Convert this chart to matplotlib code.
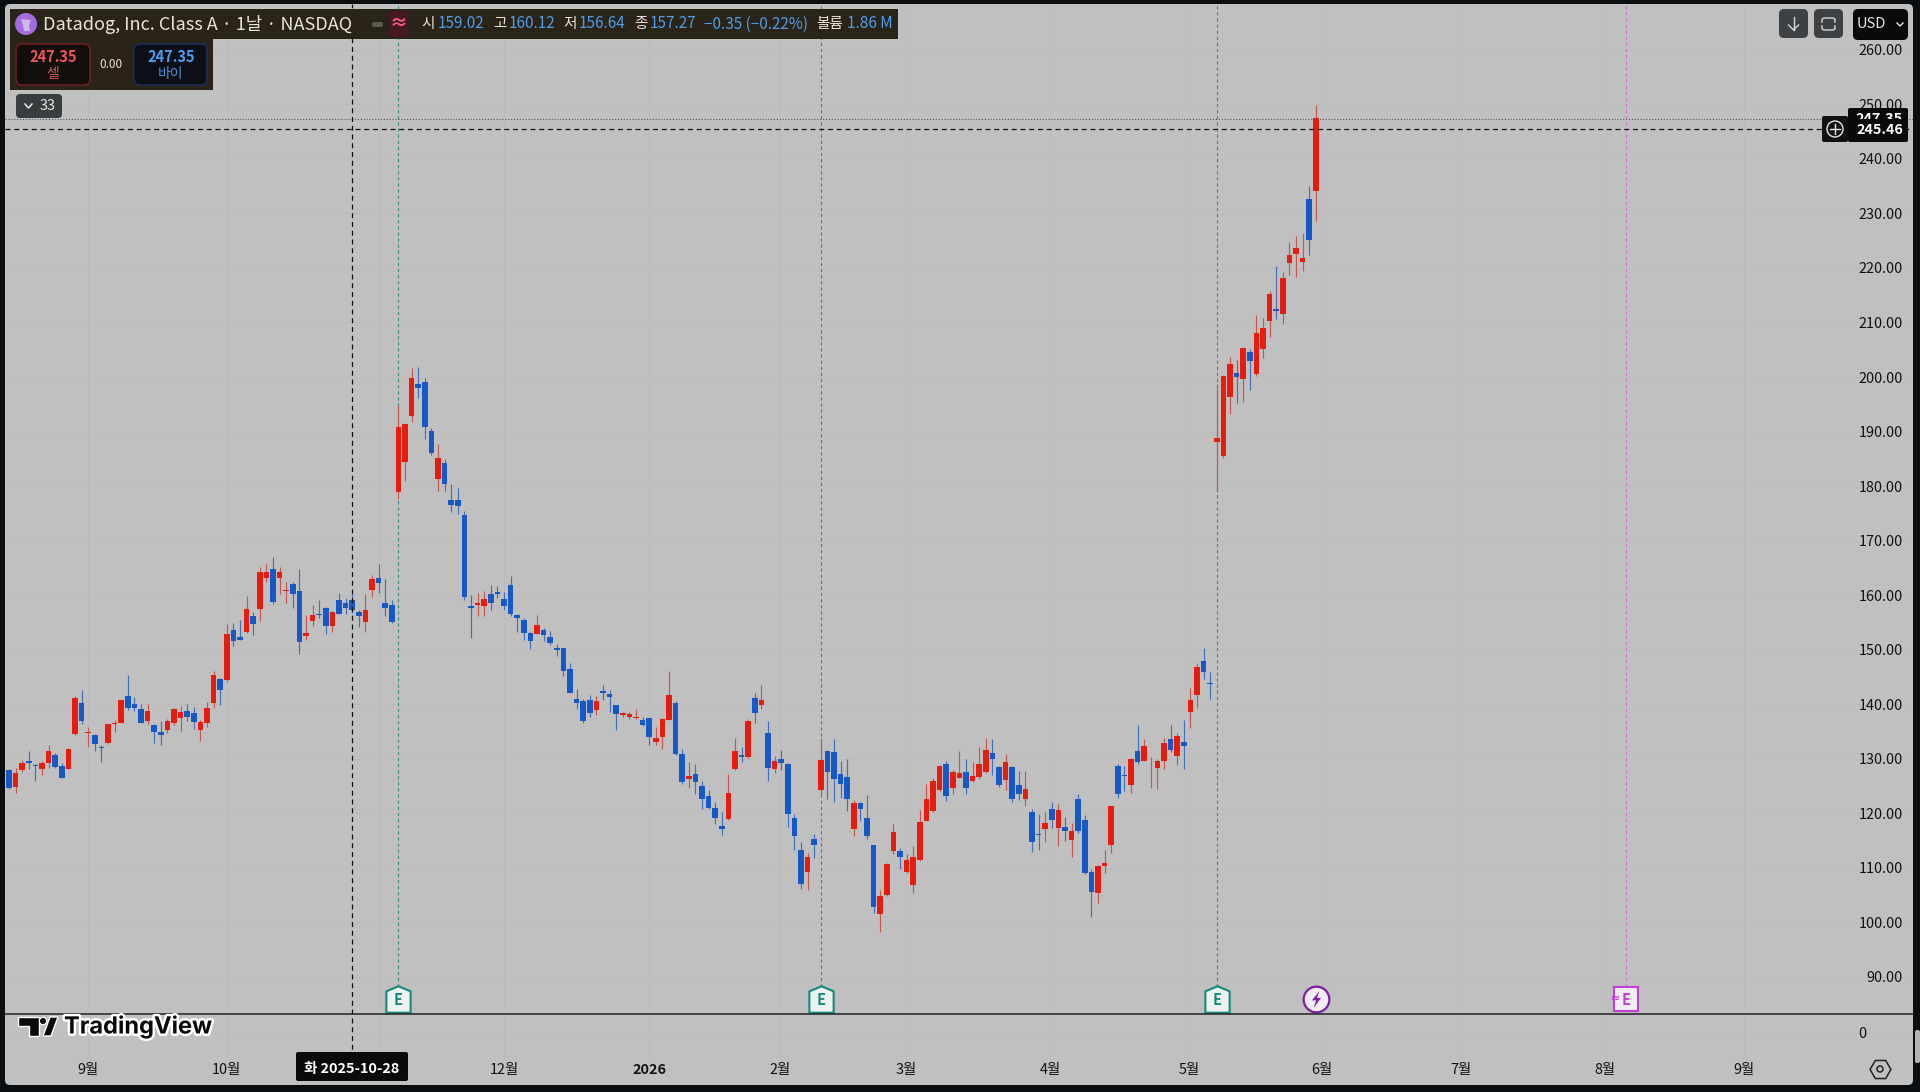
import matplotlib
matplotlib.use('Agg')
import numpy as np
import matplotlib.pyplot as plt
import matplotlib.patheffects as pe
from matplotlib.patches import FancyBboxPatch, Circle, Polygon, Rectangle
from matplotlib.path import Path

plt.rcParams['font.family'] = ['Noto Sans CJK KR', 'DejaVu Sans']

opens = [127.9,124.8,127.8,129.6,128.8,128.1,129.1,130.6,128.7,128.1,
         134.5,140.1,134.6,134.4,132.1,132.9,136.3,136.6,141.5,140.0,
         139.1,136.9,136.1,134.9,135.3,136.5,137.5,138.8,138.3,135.2,
         136.5,140.2,144.5,144.4,153.6,152.3,153.3,156.1,157.4,163.1,
         164.8,163.1,160.7,162.0,160.7,152.4,155.2,156.5,157.6,154.3,
         159.1,158.5,159.02,156.9,155.0,161.0,163.1,158.5,158.2,178.9,
         184.4,192.9,198.7,199.1,190.1,181.3,184.3,177.5,177.4,174.6,
         158.0,158.2,157.9,160.1,160.5,159.3,161.8,156.3,155.4,153.1,
         152.9,153.5,152.3,150.3,150.2,146.5,140.9,140.6,140.7,138.9,
         142.4,141.9,139.8,138.0,137.6,137.4,137.1,137.4,133.0,133.9,
         137.1,140.2,130.8,126.3,127.2,125.0,123.1,121.0,117.6,118.9,
         128.0,130.6,130.2,141.1,139.8,134.6,128.0,129.9,128.9,119.1,
         113.2,109.1,115.2,124.3,131.4,131.2,127.1,126.6,117.1,121.9,
         119.1,114.1,101.5,104.9,113.0,113.0,109.2,106.8,111.4,118.6,
         120.4,124.2,129.0,124.5,126.5,127.5,125.9,126.6,127.5,131.0,
         128.4,126.1,128.4,125.1,122.6,120.2,116.2,117.0,120.7,117.3,
         117.4,115.0,122.6,118.8,109.2,105.4,110.3,114.1,128.6,126.9,
         125.1,131.4,129.6,128.0,128.3,129.5,133.6,130.5,133.1,138.5,
         141.6,147.9,143.9,188.1,185.5,196.4,200.7,199.6,204.6,200.5,
         205.2,210.3,212.5,211.6,220.9,222.6,221.1,232.7,234.1]
highs = [128.0,128.2,129.7,131.4,128.9,129.6,132.5,131.1,129.1,131.9,
         141.5,142.6,135.7,134.5,132.4,136.4,137.0,140.8,145.4,141.2,
         140.0,140.0,136.3,136.8,137.3,139.2,139.6,140.0,139.5,137.0,
         140.3,146.0,144.7,154.6,154.9,155.4,159.8,156.8,165.2,165.7,
         167.0,165.1,162.3,162.3,164.7,156.3,158.2,159.1,157.8,157.1,
         160.3,159.5,160.12,157.3,160.1,163.7,165.7,163.0,159.1,194.9,
         191.5,201.6,201.8,199.8,190.6,187.7,184.9,180.3,179.6,175.5,
         160.0,160.3,160.7,161.8,161.7,160.5,163.5,156.5,155.7,153.3,
         156.3,153.9,153.4,151.1,150.3,147.5,142.8,140.9,141.7,141.5,
         143.5,142.6,139.9,138.6,138.6,139.0,137.7,137.5,135.8,137.4,
         146.1,140.5,131.7,129.4,129.0,125.8,124.3,122.0,120.1,127.1,
         133.7,132.1,137.2,142.0,143.5,136.9,130.5,131.6,129.1,119.9,
         114.7,112.6,116.1,133.7,131.5,133.5,129.6,129.9,122.4,122.1,
         123.3,114.2,105.9,110.9,118.0,113.5,112.4,114.0,120.5,125.3,
         126.4,128.8,129.5,127.8,131.4,130.0,129.4,132.2,133.8,133.6,
         128.6,130.8,128.6,127.7,127.7,120.7,119.8,120.1,122.1,121.6,
         119.3,118.1,123.4,119.6,109.8,110.4,113.3,121.3,128.9,128.6,
         130.1,136.1,133.6,130.2,130.0,133.7,136.1,134.7,137.1,142.9,
         147.5,150.2,145.8,198.8,200.4,203.7,203.1,205.5,205.1,211.4,
         210.9,215.7,220.4,219.3,224.7,225.9,226.5,235.0,249.9]
lows = [124.4,123.7,127.5,128.1,125.8,126.9,128.3,128.3,126.4,128.0,
        134.4,136.3,132.2,131.4,129.3,132.7,134.8,136.5,138.9,138.7,
        136.5,136.3,132.9,132.5,134.7,136.1,135.1,136.9,135.5,133.3,
        135.7,139.3,139.8,144.1,150.7,151.7,153.1,152.6,155.2,162.3,
        158.3,160.1,158.5,157.6,149.2,151.8,154.3,155.8,152.8,153.3,
        156.5,156.6,156.64,154.1,153.2,159.6,160.4,156.1,154.9,177.7,
        181.0,191.8,196.2,188.7,185.6,179.1,179.1,175.2,174.9,159.1,
        152.2,156.1,156.1,157.2,159.4,157.3,156.1,153.3,151.8,150.1,
        152.8,151.6,150.8,148.8,145.2,142.0,139.1,136.6,137.6,138.0,
        140.8,138.5,135.2,137.7,137.3,137.3,136.0,132.5,132.5,131.8,
        137.0,130.7,125.4,124.6,123.5,120.8,120.8,118.0,116.0,118.8,
        127.8,129.3,130.1,136.6,139.1,125.9,127.3,127.9,117.5,113.2,
        106.1,105.8,111.7,123.5,122.5,122.0,122.7,120.4,115.8,118.6,
        115.2,101.7,98.2,104.8,112.5,109.7,108.9,105.4,111.2,118.5,
        120.2,124.0,122.2,123.5,126.4,123.5,125.7,126.3,127.4,126.9,
        124.8,124.2,122.0,122.3,121.3,112.8,113.3,114.7,117.2,113.9,
        114.8,111.9,116.3,108.8,101.0,103.5,109.0,112.7,122.7,124.0,
        123.7,128.9,129.5,124.6,124.4,128.1,131.2,128.8,128.1,135.6,
        139.2,144.6,140.9,179.3,185.2,193.3,195.2,195.5,197.7,200.1,
        203.4,207.3,210.6,209.7,218.8,218.4,219.5,222.4,228.6]
closes = [124.6,127.4,129.2,129.1,128.6,129.2,131.3,128.5,126.5,131.8,
          141.1,136.8,134.9,132.7,131.9,136.3,136.6,140.7,139.2,139.2,
          136.6,138.8,134.8,134.4,136.9,139.0,138.5,137.6,136.7,136.7,
          139.3,145.4,142.6,152.8,151.6,151.8,157.5,154.6,164.2,164.2,
          158.8,164.3,161.0,160.1,151.3,153.0,156.4,156.3,154.3,156.8,
          156.6,157.6,157.27,156.1,157.2,162.9,162.2,157.6,155.0,190.9,
          191.4,199.8,197.9,190.9,186.0,185.1,180.4,176.5,176.3,159.6,
          157.6,158.6,159.2,158.5,160.1,157.9,156.5,155.8,153.0,151.5,
          154.5,152.7,151.2,150.0,146.1,142.1,140.1,136.8,138.4,140.6,
          142.0,141.3,138.2,138.4,138.1,137.6,136.1,133.9,133.8,137.3,
          141.6,130.8,125.6,126.7,125.6,122.6,120.9,119.1,117.1,123.6,
          131.4,130.2,136.9,138.3,140.7,128.3,129.5,129.2,119.8,115.8,
          106.9,111.9,114.2,129.8,127.5,126.2,125.3,122.6,121.9,120.7,
          115.8,102.8,104.7,110.6,116.6,112.0,111.4,111.9,118.4,122.5,
          125.9,128.6,123.2,127.6,127.3,124.6,126.8,129.0,131.5,130.0,
          125.1,129.4,122.6,123.5,124.4,114.6,116.0,118.2,118.8,120.5,
          116.7,116.7,116.7,109.0,105.5,110.3,110.8,121.2,123.5,126.7,
          130.0,129.4,132.3,128.1,129.6,132.9,131.5,134.1,132.3,140.7,
          146.8,145.9,143.7,188.8,200.2,202.4,200.0,205.3,202.9,208.0,
          209.0,215.2,212.2,218.2,222.4,223.7,221.9,225.2,247.5]

price_ticks = [90, 100, 110, 120, 130, 140, 150, 160, 170, 180, 190, 200, 210,
               220, 230, 240, 250, 260]
month_pos = [12, 33, 56, 75, 97, 116.8, 135.9, 157.8, 178.8, 198.9, 220, 241.8, 262.9]
month_labels = ['9월', '10월', '', '12월', '2026', '2월', '3월', '4월', '5월', '6월', '7월', '8월', '9월']
earnings_bars = [59, 123, 183]
future_earnings_bar = 245
split_bar = 198
cursor_bar = 52
cursor_price = 245.46
last_price = 247.35

BG = '#c0c0c0'
GRID = '#bbbbbb'
RED = '#e61c0e'
BLUE = '#1558c6'
RED_WICK = '#c8584e'
BLUE_WICK = '#3f72bd'
DARK = '#0b0e11'


# pane edges in pixels, the bar and price scales come from the picture
def pane(left, top, right, bottom):
    return fig.add_axes([left / 1920, 1 - bottom / 1092, (right - left) / 1920, (bottom - top) / 1092])


fig = plt.figure(figsize=(19.2, 10.92), dpi=100, facecolor=DARK)

back = fig.add_axes([0, 0, 1, 1], zorder=0)
back.set_xlim(0, 1920)
back.set_ylim(1092, 0)
back.axis('off')
back.add_patch(FancyBboxPatch((5, 4), 1908, 1081, boxstyle='round,pad=0,rounding_size=5', fc=BG, ec='none'))
back.add_patch(FancyBboxPatch((1915, 1030), 5, 33, boxstyle='round,pad=0,rounding_size=2', fc='#b4b4b4', ec='none'))

xlim = ((5 - 9) / 6.6, (1913 - 9) / 6.6)
ax = pane(5, 4, 1913, 1014)
ax.set_zorder(1)
ax.patch.set_alpha(0)
ax.set_xlim(*xlim)
ax.set_ylim(83.12, 268.44)
for s in ax.spines.values():
    s.set_visible(False)
ax.set_yticks(price_ticks)
ax.set_yticklabels([f'{p:.2f}' for p in price_ticks], ha='right', fontsize=10.4, color='#111111')
ax.yaxis.tick_right()
ax.tick_params(axis='y', length=0, pad=-7.2)
ax.set_xticks(month_pos)
ax.tick_params(axis='x', length=0, labelbottom=False)
ax.grid(True, color=GRID, lw=0.7)
ax.set_axisbelow(True)

# event lines
for b in earnings_bars:
    ax.plot([b, b], [85.9, 268.44], color='#3b8f80', lw=0.8, ls=(0, (3, 2.5)), zorder=1)
ax.plot([future_earnings_bar] * 2, [85.9, 268.44], color='#d070d0', lw=0.8, ls=(0, (3, 2.5)), zorder=1)

# candles
x = np.arange(len(opens))
o = np.array(opens)
c = np.array(closes)
up = c >= o
ax.vlines(x[up], np.array(lows)[up], np.array(highs)[up], color=RED_WICK, lw=0.85, zorder=2)
ax.vlines(x[~up], np.array(lows)[~up], np.array(highs)[~up], color=BLUE_WICK, lw=0.85, zorder=2)
ax.bar(x[up], (c - o)[up], bottom=o[up], width=0.84, color=RED, lw=0, zorder=3)
ax.bar(x[~up], (c - o)[~up], bottom=o[~up], width=0.84, color=BLUE, lw=0, zorder=3)

# cursor and last price
ax.axhline(last_price, color='#555555', lw=0.8, ls=(0, (1, 1.6)), zorder=4)
ax.axhline(cursor_price, color='#111111', lw=0.9, ls=(0, (4, 3)), zorder=4)
ax.axvline(cursor_bar, color='#111111', lw=0.9, ls=(0, (4, 3)), zorder=4)

# event badges sit at a fixed height near the bottom of the pane
badge_y = 85.9
house = Path(np.array([(-0.92, -1), (0.92, -1), (0.92, 0.62), (0, 1), (-0.92, 0.62), (-0.92, -1)]), closed=True)
bolt = Path(np.array([(0.35, 1), (-0.55, -0.1), (-0.05, -0.1), (-0.35, -1), (0.55, 0.2), (0.05, 0.2), (0.35, 1)]), closed=True)
for b in earnings_bars:
    ax.plot([b], [badge_y], marker=house, ms=19, mfc='#eef3f1', mec='#12897b', mew=1.5, zorder=5, clip_on=False)
    ax.text(b, badge_y - 0.2, 'E', color='#12897b', fontsize=10.5, fontweight='bold', ha='center', va='center', zorder=6)
ax.plot([split_bar], [badge_y], marker='o', ms=18.5, mfc='#f1ecf4', mec='#7b1fa2', mew=1.6, zorder=5)
ax.plot([split_bar], [badge_y], marker=bolt, ms=12, mfc='#7b1fa2', mec='none', zorder=6)
ax.plot([future_earnings_bar], [badge_y], marker='s', ms=17.5, mfc='#f3ecf4', mec='#c23fd6', mew=1.5, zorder=5)
ax.text(future_earnings_bar, badge_y - 0.2, 'E', color='#c23fd6', fontsize=10.5, fontweight='bold', ha='center', va='center', zorder=6)
ax.annotate('≈', (future_earnings_bar, badge_y), xytext=(-7.5, 0), textcoords='offset points', color='#c23fd6',
            fontsize=8, fontweight='bold', ha='center', va='center', zorder=6)

# volume pane, only the zero line and the time labels
ax2 = pane(5, 1014, 1913, 1058)
ax2.set_zorder(1)
ax2.patch.set_alpha(0)
ax2.set_xlim(*xlim)
ax2.set_ylim(-25, 19)
for s in ax2.spines.values():
    s.set_visible(False)
ax2.spines['top'].set_visible(True)
ax2.spines['top'].set_color('#222222')
ax2.spines['top'].set_linewidth(1.1)
ax2.set_yticks([0])
ax2.set_yticklabels(['0'], ha='left', fontsize=10.4, color='#111111')
ax2.yaxis.tick_right()
ax2.tick_params(axis='y', length=0, pad=-39.6)
ax2.set_xticks(month_pos)
ax2.set_xticklabels(month_labels, fontsize=10.4, color='#111111', va='center')
ax2.tick_params(axis='x', length=0, pad=8.5)
for lab in ax2.get_xticklabels():
    if lab.get_text() == '2026':
        lab.set_fontweight('bold')
ax2.grid(True, color=GRID, lw=0.7)
ax2.set_axisbelow(True)
ax2.axvline(cursor_bar, color='#111111', lw=0.9, ls=(0, (4, 3)), zorder=4)

# interface pieces on top, in pixels
ui = fig.add_axes([0, 0, 1, 1], zorder=5)
ui.set_xlim(0, 1920)
ui.set_ylim(1092, 0)
ui.axis('off')


def box(x0, y0, x1, y1, fc, ec='none', r=3, lw=1, z=1):
    ui.add_patch(FancyBboxPatch((x0, y0), x1 - x0, y1 - y0, boxstyle=f'round,pad=0,rounding_size={r}', fc=fc, ec=ec, lw=lw, zorder=z))


def label(px, py, s, color='#e8e4da', size=11, ha='left', **kw):
    ui.text(px, py, s, color=color, fontsize=size, ha=ha, va='center', **kw)


HEAD = '#2a2418'
HBLUE = '#4d9de8'
ui.add_patch(Rectangle((10, 9), 888, 30, fc=HEAD, ec='none'))
ui.add_patch(Rectangle((10, 39), 203, 51, fc=HEAD, ec='none'))
ui.add_patch(Circle((26, 24), 11, fc='#a56be0', ec='none'))
ui.add_patch(Polygon([(21, 19), (31, 20), (29, 25), (30, 31), (24, 31), (23, 25)], closed=True, fc='#cdb8e8', ec='none'))
label(43, 24, 'Datadog, Inc. Class A · 1날 · NASDAQ', size=13)
box(372, 22, 383, 27, '#5a5a52', r=2)
box(390, 11, 408, 37, '#45191e', r=2)
label(399, 24, '≈', color='#f0608a', size=13, ha='center', fontweight='bold')
for px, s in zip([421, 493, 563, 634, 816], ['시', '고', '저', '종', '볼륨']):
    label(px, 24, s, size=10.5)
for px, s in zip([438, 509, 579, 650, 704, 847], ['159.02', '160.12', '156.64', '157.27', '−0.35 (−0.22%)', '1.86 M']):
    label(px, 24, s, color=HBLUE, size=11)

box(16, 44, 90, 85, '#120e0c', ec='#6a1f22', r=6, lw=1.2)
label(53, 57, '247.35', color='#f0555a', size=10.5, ha='center', fontweight='bold')
label(53, 74, '셀', color='#d8545a', size=10, ha='center')
label(111, 64, '0.00', size=8.5, ha='center')
box(134, 44, 207, 85, '#0c0f16', ec='#1c2d5a', r=6, lw=1.2)
label(171, 57, '247.35', color='#4d9df0', size=10.5, ha='center', fontweight='bold')
label(171, 74, '바이', color='#4d8fd8', size=10, ha='center')

box(16, 94, 62, 118, '#3a3d40', r=4)
ui.plot([25, 28.5, 32], [104, 108, 104], color='#e8e8e8', lw=1.1)
label(48, 106, '33', size=10.5, ha='center')

# top right buttons
box(1779, 9, 1808, 38, '#3e4144', r=5)
ui.plot([1793.5, 1793.5], [17, 30], color='#d8d8d8', lw=1)
ui.plot([1788.5, 1793.5, 1798.5], [25, 30, 25], color='#d8d8d8', lw=1)
box(1814, 9, 1843, 38, '#3e4144', r=5)
ui.plot([1822, 1822, 1824, 1833, 1835, 1835], [22, 19, 18, 18, 19, 22], color='#d8d8d8', lw=1)
ui.plot([1822, 1822, 1824, 1833, 1835, 1835], [26, 29, 30, 30, 29, 26], color='#d8d8d8', lw=1)
box(1853, 9, 1908, 40, '#0a0a0a', r=5)
label(1857, 24, 'USD', color='#e8e8e8', size=10.5)
ui.plot([1897, 1900, 1903], [23, 26, 23], color='#e8e8e8', lw=1)

# price tags on the scale, the cursor tag covers most of the last price tag
box(1848, 108, 1908, 132, '#0a0a0a', r=2)
label(1903, 119, '247.35', color='#ffffff', size=10.4, ha='right', fontweight='bold', zorder=3)
box(1822, 116, 1848, 142, '#111111', r=2, z=4)
ui.add_patch(Circle((1835, 129), 8, fc='none', ec='#e8e8e8', lw=1, zorder=5))
ui.plot([1830, 1840], [129, 129], color='#e8e8e8', lw=1, zorder=5)
ui.plot([1835, 1835], [124, 134], color='#e8e8e8', lw=1, zorder=5)
box(1848, 119, 1908, 142, '#0a0a0a', r=2, z=4)
label(1903, 130, '245.46', color='#ffffff', size=10.4, ha='right', fontweight='bold', zorder=5)

# date tag
box(296, 1052, 408, 1081, '#0a0a0a', r=2)
label(352, 1068.5, '화 2025-10-28', color='#ffffff', size=10.4, ha='center', fontweight='bold')

# logo
halo = [pe.withStroke(linewidth=3.5, foreground='#ffffff')]
label(64, 1027, 'TradingView', color='#0a0a0a', size=17, fontweight='bold', path_effects=halo, family=['Inter', 'DejaVu Sans'])
for pts in ([(18, 1017), (39, 1017), (39, 1036), (29, 1036), (29, 1026), (18, 1026)],
            [(43, 1036), (50, 1017), (58, 1017), (51, 1036)]):
    ui.add_patch(Polygon(pts, closed=True, fc='#0a0a0a', ec='#ffffff', lw=1))
ui.add_patch(Circle((43, 1021), 3.6, fc='#0a0a0a', ec='#ffffff', lw=0.8))

# settings icon
ui.plot([1880], [1069], marker='H', ms=15, mfc='none', mec='#222222', mew=1.1)
ui.add_patch(Circle((1880, 1069), 3, fc='none', ec='#222222', lw=1.1))

fig.savefig('out.png', dpi=100, facecolor=DARK)
